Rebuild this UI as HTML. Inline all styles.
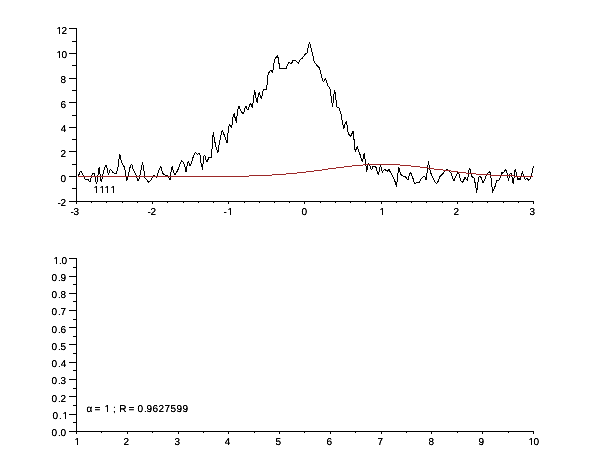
<!DOCTYPE html>
<html><head><meta charset="utf-8"><title>plot</title>
<style>html,body{margin:0;padding:0;background:#fff;width:610px;height:460px;overflow:hidden}svg{display:block;will-change:transform}</style>
</head><body>
<svg width="610" height="460" viewBox="0 0 610 460">
<defs><filter id="sh" x="0" y="0" filterUnits="userSpaceOnUse" width="610" height="460"><feComponentTransfer><feFuncA type="linear" slope="1.6" intercept="-0.15"/></feComponentTransfer></filter></defs>
<rect width="610" height="460" fill="#fff"/>
<g shape-rendering="crispEdges"><rect x="76" y="28" width="1" height="174" fill="#000"/><rect x="76" y="201" width="458" height="1" fill="#000"/><rect x="69" y="28" width="7" height="1" fill="#000"/><rect x="72" y="41" width="4" height="1" fill="#000"/><rect x="69" y="53" width="7" height="1" fill="#000"/><rect x="72" y="65" width="4" height="1" fill="#000"/><rect x="69" y="78" width="7" height="1" fill="#000"/><rect x="72" y="90" width="4" height="1" fill="#000"/><rect x="69" y="102" width="7" height="1" fill="#000"/><rect x="72" y="115" width="4" height="1" fill="#000"/><rect x="69" y="127" width="7" height="1" fill="#000"/><rect x="72" y="139" width="4" height="1" fill="#000"/><rect x="69" y="151" width="7" height="1" fill="#000"/><rect x="72" y="164" width="4" height="1" fill="#000"/><rect x="69" y="176" width="7" height="1" fill="#000"/><rect x="72" y="188" width="4" height="1" fill="#000"/><rect x="69" y="201" width="7" height="1" fill="#000"/><rect x="76" y="202" width="1" height="2" fill="#000"/><rect x="91" y="202" width="1" height="1" fill="#000"/><rect x="106" y="202" width="1" height="1" fill="#000"/><rect x="122" y="202" width="1" height="1" fill="#000"/><rect x="137" y="202" width="1" height="1" fill="#000"/><rect x="152" y="202" width="1" height="2" fill="#000"/><rect x="167" y="202" width="1" height="1" fill="#000"/><rect x="183" y="202" width="1" height="1" fill="#000"/><rect x="198" y="202" width="1" height="1" fill="#000"/><rect x="213" y="202" width="1" height="1" fill="#000"/><rect x="228" y="202" width="1" height="2" fill="#000"/><rect x="244" y="202" width="1" height="1" fill="#000"/><rect x="259" y="202" width="1" height="1" fill="#000"/><rect x="274" y="202" width="1" height="1" fill="#000"/><rect x="289" y="202" width="1" height="1" fill="#000"/><rect x="304" y="202" width="1" height="2" fill="#000"/><rect x="320" y="202" width="1" height="1" fill="#000"/><rect x="335" y="202" width="1" height="1" fill="#000"/><rect x="350" y="202" width="1" height="1" fill="#000"/><rect x="365" y="202" width="1" height="1" fill="#000"/><rect x="381" y="202" width="1" height="2" fill="#000"/><rect x="396" y="202" width="1" height="1" fill="#000"/><rect x="411" y="202" width="1" height="1" fill="#000"/><rect x="426" y="202" width="1" height="1" fill="#000"/><rect x="442" y="202" width="1" height="1" fill="#000"/><rect x="457" y="202" width="1" height="2" fill="#000"/><rect x="472" y="202" width="1" height="1" fill="#000"/><rect x="487" y="202" width="1" height="1" fill="#000"/><rect x="503" y="202" width="1" height="1" fill="#000"/><rect x="518" y="202" width="1" height="1" fill="#000"/><rect x="533" y="202" width="1" height="2" fill="#000"/><rect x="76" y="258" width="1" height="174" fill="#000"/><rect x="76" y="431" width="458" height="1" fill="#000"/><rect x="69" y="431" width="7" height="1" fill="#000"/><rect x="73" y="422" width="3" height="1" fill="#000"/><rect x="69" y="414" width="7" height="1" fill="#000"/><rect x="73" y="405" width="3" height="1" fill="#000"/><rect x="69" y="396" width="7" height="1" fill="#000"/><rect x="73" y="388" width="3" height="1" fill="#000"/><rect x="69" y="379" width="7" height="1" fill="#000"/><rect x="73" y="370" width="3" height="1" fill="#000"/><rect x="69" y="362" width="7" height="1" fill="#000"/><rect x="73" y="353" width="3" height="1" fill="#000"/><rect x="69" y="344" width="7" height="1" fill="#000"/><rect x="73" y="336" width="3" height="1" fill="#000"/><rect x="69" y="327" width="7" height="1" fill="#000"/><rect x="73" y="319" width="3" height="1" fill="#000"/><rect x="69" y="310" width="7" height="1" fill="#000"/><rect x="73" y="301" width="3" height="1" fill="#000"/><rect x="69" y="293" width="7" height="1" fill="#000"/><rect x="73" y="284" width="3" height="1" fill="#000"/><rect x="69" y="276" width="7" height="1" fill="#000"/><rect x="73" y="267" width="3" height="1" fill="#000"/><rect x="69" y="258" width="7" height="1" fill="#000"/><rect x="76" y="432" width="1" height="2" fill="#000"/><rect x="101" y="432" width="1" height="1" fill="#000"/><rect x="127" y="432" width="1" height="2" fill="#000"/><rect x="152" y="432" width="1" height="1" fill="#000"/><rect x="178" y="432" width="1" height="2" fill="#000"/><rect x="203" y="432" width="1" height="1" fill="#000"/><rect x="228" y="432" width="1" height="2" fill="#000"/><rect x="254" y="432" width="1" height="1" fill="#000"/><rect x="279" y="432" width="1" height="2" fill="#000"/><rect x="304" y="432" width="1" height="1" fill="#000"/><rect x="330" y="432" width="1" height="2" fill="#000"/><rect x="355" y="432" width="1" height="1" fill="#000"/><rect x="381" y="432" width="1" height="2" fill="#000"/><rect x="406" y="432" width="1" height="1" fill="#000"/><rect x="431" y="432" width="1" height="2" fill="#000"/><rect x="457" y="432" width="1" height="1" fill="#000"/><rect x="482" y="432" width="1" height="2" fill="#000"/><rect x="508" y="432" width="1" height="1" fill="#000"/><rect x="533" y="432" width="1" height="2" fill="#000"/></g>
<polyline points="78.4,175.8 79.4,173.6 80.3,171.8 81.3,171.8 82.4,173.6 83.5,175.6 84.5,177.7 85.5,179.6 86.7,179.1 87.9,179.4 88.8,180.6 89.8,182.0 90.5,181.3 91.0,177.9 91.5,175.8 92.2,174.6 92.9,173.5 94.1,173.5 94.3,173.6 95.1,176.8 95.6,179.6 96.4,183.4 97.3,181.7 97.8,177.4 98.3,172.0 98.8,168.7 99.4,167.3 99.9,173.0 100.4,176.3 100.8,179.6 101.3,182.3 101.9,179.6 102.4,175.8 103.1,173.6 103.7,171.4 104.3,168.7 105.1,166.5 106.0,165.4 106.8,167.6 107.5,170.1 108.1,173.0 108.6,174.4 109.2,172.0 110.0,169.8 110.8,169.5 111.7,170.6 112.5,172.2 113.6,173.0 115.2,173.3 116.6,173.0 117.4,169.0 117.9,168.0 118.8,160.2 119.7,154.1 120.5,155.9 121.0,160.2 122.3,164.1 124.4,167.2 125.7,173.7 126.6,180.7 127.9,177.2 129.2,171.1 130.5,165.4 131.8,164.6 133.1,168.9 135.3,173.7 136.6,176.3 137.9,180.7 139.2,178.5 140.5,173.3 141.4,168.0 142.5,162.4 143.6,167.6 144.4,173.7 144.9,177.6 146.6,179.8 148.8,182.4 151.0,179.8 153.7,175.4 155.0,175.9 156.3,177.6 157.7,173.7 159.0,170.2 160.7,166.3 161.6,168.5 162.4,172.8 163.7,174.6 165.5,175.4 167.2,175.4 169.0,178.0 170.3,180.2 170.7,175.0 171.3,168.5 172.4,166.3 173.3,171.1 174.6,175.0 176.3,172.8 178.1,169.3 179.8,164.6 181.6,160.7 183.3,162.0 184.6,165.0 185.5,168.5 185.9,172.4 186.8,166.7 187.7,163.3 188.5,161.5 189.8,165.4 190.3,165.9 192.0,160.7 193.3,156.7 194.6,153.2 195.5,152.3 197.2,154.1 199.5,153.8 200.4,155.4 200.6,162.6 201.7,163.9 202.4,170.1 203.0,163.9 203.7,157.4 204.5,154.8 205.3,157.1 206.0,160.0 206.6,162.3 207.6,160.3 208.9,157.7 210.2,157.1 211.5,157.1 212.0,149.0 212.6,139.0 213.3,132.2 214.0,136.7 214.7,141.2 215.7,145.4 216.5,148.7 217.8,153.0 218.6,148.0 219.5,142.0 220.5,137.8 221.4,133.3 222.3,130.6 223.3,132.5 224.4,135.5 225.6,139.0 227.1,143.1 227.6,137.8 228.4,128.7 229.4,124.5 230.5,126.0 231.7,128.3 232.4,121.8 233.3,115.5 234.3,113.6 235.3,119.0 236.5,122.4 237.5,110.7 238.9,105.8 240.2,109.2 241.6,112.1 243.4,114.1 244.6,109.7 245.8,105.8 247.0,108.7 248.3,110.2 249.5,104.8 250.9,103.8 252.4,108.2 253.8,96.3 254.6,90.3 255.4,94.1 256.3,99.6 257.1,102.8 258.2,96.3 259.2,92.5 260.3,96.3 261.4,99.0 262.5,93.0 263.6,89.6 265.2,89.8 266.3,89.8 267.2,84.3 267.6,76.7 268.7,72.9 270.1,70.8 271.3,70.2 272.6,72.4 273.5,67.6 274.3,61.1 275.4,58.0 276.5,57.4 277.4,55.4 278.3,58.5 278.7,62.8 279.6,65.0 280.0,68.5 281.3,68.4 283.9,68.4 286.1,68.5 287.4,65.4 288.4,62.7 289.6,62.8 291.3,64.1 292.6,61.1 293.5,60.2 295.2,60.4 297.0,62.0 298.5,63.3 299.6,60.7 300.9,58.9 302.6,58.0 303.9,55.9 305.7,53.7 307.2,52.8 307.8,49.7 308.5,45.8 309.4,42.3 310.0,43.7 310.6,45.8 311.1,48.9 312.0,52.3 312.9,55.4 313.5,58.4 314.1,61.0 315.2,63.2 316.5,65.0 318.3,66.7 319.6,68.4 320.4,71.5 321.7,76.8 322.6,80.3 323.6,82.2 324.6,79.8 325.6,78.3 326.5,81.3 327.5,85.2 328.7,86.6 329.7,88.1 330.5,90.5 330.9,95.0 331.6,99.4 332.1,103.3 332.6,106.7 333.1,102.3 333.6,97.4 334.1,93.5 334.6,89.6 335.1,92.0 335.5,95.4 336.0,100.3 336.5,104.2 337.0,107.2 338.5,107.0 339.4,108.9 340.4,111.8 341.4,115.8 342.0,119.7 342.8,124.1 344.0,128.5 344.8,124.6 345.8,122.1 346.5,120.7 346.9,124.6 347.5,128.5 348.2,132.9 349.5,135.3 350.7,136.3 351.8,133.9 353.1,131.4 353.6,136.3 354.1,140.2 354.6,147.6 355.4,152.0 356.5,147.6 357.4,146.5 358.7,150.9 360.3,155.2 362.2,161.5 363.3,157.9 364.3,152.6 365.0,158.5 365.8,163.9 366.3,168.3 366.8,171.5 367.4,166.1 368.5,163.4 369.6,164.5 370.7,168.3 371.7,169.9 372.8,166.6 374.5,166.1 376.1,167.7 377.2,171.5 378.3,174.8 379.3,170.4 380.4,165.5 381.5,168.3 382.2,172.3 384.5,169.3 386.1,170.3 387.4,171.2 389.0,169.6 390.7,172.6 392.0,174.8 393.3,177.4 394.6,180.4 395.9,183.9 396.5,187.4 397.2,179.6 397.9,173.5 398.7,167.4 399.3,168.3 400.2,173.0 401.5,175.2 403.3,176.1 405.4,176.5 406.7,178.7 408.0,180.0 409.3,174.8 410.2,172.4 411.5,174.3 412.8,177.8 414.1,182.2 415.0,184.3 416.3,183.0 417.6,182.6 418.9,183.0 420.2,180.4 421.5,178.3 422.8,177.0 424.1,176.1 424.8,176.5 426.1,180.0 426.8,175.2 427.4,169.1 428.0,164.8 428.4,161.3 429.0,164.8 429.6,167.4 430.3,171.7 431.3,174.3 432.6,177.0 433.9,180.0 435.2,182.6 436.5,183.5 437.8,182.2 438.7,179.6 439.6,177.0 441.3,175.2 443.0,173.5 444.8,171.3 446.5,169.6 447.7,169.6 449.1,171.3 450.9,173.0 452.2,176.1 453.0,178.7 453.7,181.3 454.8,178.7 456.1,176.1 457.4,172.6 458.3,172.2 459.1,174.3 460.2,178.9 461.1,181.1 462.4,182.4 463.7,180.2 464.6,178.0 465.4,177.2 466.3,179.3 467.3,180.7 468.0,177.2 468.7,172.4 469.3,168.5 470.2,169.8 470.8,172.4 471.5,176.3 472.8,177.2 474.0,177.6 474.6,181.1 475.4,183.7 476.0,188.0 476.6,192.8 477.2,188.0 477.8,183.7 478.5,178.5 479.3,176.3 480.7,176.7 482.0,180.2 483.3,183.3 484.6,179.8 485.9,176.3 487.2,173.7 488.5,172.4 489.8,171.5 490.5,174.6 491.1,178.5 491.7,183.7 492.2,188.5 492.7,192.8 493.3,189.8 494.1,188.9 494.8,187.2 495.7,184.1 496.5,181.1 497.8,180.2 499.1,180.2 500.3,177.6 500.9,175.0 501.7,172.4 503.0,173.3 504.3,171.5 505.7,169.3 506.5,171.1 507.4,173.7 507.8,176.7 508.4,181.1 509.1,178.0 509.8,175.0 510.4,172.8 511.3,173.7 511.9,176.7 512.6,181.1 513.3,184.1 513.9,179.3 514.5,173.7 515.0,169.8 515.3,168.7 516.0,172.0 516.6,175.2 517.3,178.2 517.9,179.5 518.9,178.2 519.6,180.1 520.5,179.8 521.2,175.9 521.8,173.3 522.5,171.3 523.2,174.6 523.8,175.9 524.5,178.5 525.4,179.5 526.4,178.2 527.4,178.8 528.4,180.1 529.4,179.8 530.3,178.2 531.0,175.9 531.6,174.2 532.3,171.6 532.7,169.0 533.3,166.7 533.8,166.4" fill="none" stroke="#000" stroke-width="1" shape-rendering="crispEdges" stroke-linejoin="bevel"/>
<g shape-rendering="crispEdges"><rect x="78" y="176" width="171" height="1" fill="#9c2828"/><rect x="249" y="175" width="23" height="1" fill="#9c2828"/><rect x="272" y="174" width="14" height="1" fill="#9c2828"/><rect x="286" y="173" width="11" height="1" fill="#9c2828"/><rect x="297" y="172" width="9" height="1" fill="#9c2828"/><rect x="306" y="171" width="8" height="1" fill="#9c2828"/><rect x="314" y="170" width="8" height="1" fill="#9c2828"/><rect x="322" y="169" width="6" height="1" fill="#9c2828"/><rect x="328" y="168" width="8" height="1" fill="#9c2828"/><rect x="336" y="167" width="8" height="1" fill="#9c2828"/><rect x="344" y="166" width="8" height="1" fill="#9c2828"/><rect x="352" y="165" width="11" height="1" fill="#9c2828"/><rect x="363" y="164" width="37" height="1" fill="#9c2828"/><rect x="400" y="165" width="11" height="1" fill="#9c2828"/><rect x="411" y="166" width="9" height="1" fill="#9c2828"/><rect x="420" y="167" width="8" height="1" fill="#9c2828"/><rect x="428" y="168" width="6" height="1" fill="#9c2828"/><rect x="434" y="169" width="9" height="1" fill="#9c2828"/><rect x="443" y="170" width="8" height="1" fill="#9c2828"/><rect x="451" y="171" width="7" height="1" fill="#9c2828"/><rect x="458" y="172" width="8" height="1" fill="#9c2828"/><rect x="466" y="173" width="10" height="1" fill="#9c2828"/><rect x="476" y="174" width="14" height="1" fill="#9c2828"/><rect x="490" y="175" width="24" height="1" fill="#9c2828"/><rect x="514" y="176" width="19" height="1" fill="#9c2828"/></g>
<g font-family='"Liberation Sans", Arial, Helvetica, sans-serif' font-size="10" fill="#000" stroke="#000" stroke-width="0.1" text-rendering="geometricPrecision" filter="url(#sh)"><text x="56.49 61.50" y="34">12</text><text x="56.49 61.61" y="58">10</text><text x="60.57" y="83">8</text><text x="60.49" y="108">6</text><text x="60.77" y="132">4</text><text x="60.50" y="157">2</text><text x="60.61" y="182">0</text><text x="57.56 60.50" y="206">-2</text><text x="53.49 59.09 61.61" y="264">1.0</text><text x="51.61 58.09 60.53" y="281">0.9</text><text x="51.61 58.09 60.57" y="298">0.8</text><text x="51.61 58.09 60.49" y="315">0.7</text><text x="51.61 58.09 60.49" y="333">0.6</text><text x="51.61 58.09 60.60" y="350">0.5</text><text x="51.61 58.09 60.77" y="367">0.4</text><text x="51.61 58.09 60.62" y="384">0.3</text><text x="51.61 58.09 60.50" y="402">0.2</text><text x="51.61 58.09 60.61" y="436">0.0</text><text x="52.61 59.09 62.49" y="419">0.1</text><text x="70.56 73.62" y="215">-3</text><text x="147.56 150.50" y="215">-2</text><text x="223.56 227.49" y="215">-1</text><text x="301.61" y="215">0</text><text x="379.49" y="215">1</text><text x="453.50" y="215">2</text><text x="529.62" y="215">3</text><text x="74.49" y="445">1</text><text x="123.50" y="445">2</text><text x="174.62" y="445">3</text><text x="224.77" y="445">4</text><text x="275.60" y="445">5</text><text x="326.49" y="445">6</text><text x="377.49" y="445">7</text><text x="428.57" y="445">8</text><text x="478.53" y="445">9</text><text x="528.49 533.61" y="445">10</text><text x="93.49 99.49 104.49 110.49" y="193">1111</text><text x="86.58 92.00 94.51 101.00 104.49 110.00 113.10 117.00 119.18 127.00 128.51 135.00 137.61 144.09 146.53 152.49 158.50 164.49 170.60 176.53 182.53" y="412" xml:space="preserve">α = 1 ; R = 0.9627599</text></g>
<g shape-rendering="crispEdges"><rect x="57" y="33" width="2" height="1" fill="#fff"/><rect x="60" y="33" width="2" height="1" fill="#fff"/><rect x="57" y="57" width="2" height="1" fill="#fff"/><rect x="60" y="57" width="2" height="1" fill="#fff"/><rect x="54" y="263" width="2" height="1" fill="#fff"/><rect x="57" y="263" width="2" height="1" fill="#fff"/><rect x="63" y="418" width="2" height="1" fill="#fff"/><rect x="66" y="418" width="2" height="1" fill="#fff"/><rect x="228" y="214" width="2" height="1" fill="#fff"/><rect x="231" y="214" width="2" height="1" fill="#fff"/><rect x="380" y="214" width="2" height="1" fill="#fff"/><rect x="383" y="214" width="2" height="1" fill="#fff"/><rect x="75" y="444" width="2" height="1" fill="#fff"/><rect x="78" y="444" width="2" height="1" fill="#fff"/><rect x="529" y="444" width="2" height="1" fill="#fff"/><rect x="532" y="444" width="2" height="1" fill="#fff"/><rect x="94" y="192" width="2" height="1" fill="#fff"/><rect x="97" y="192" width="2" height="1" fill="#fff"/><rect x="100" y="192" width="2" height="1" fill="#fff"/><rect x="103" y="192" width="2" height="1" fill="#fff"/><rect x="105" y="192" width="2" height="1" fill="#fff"/><rect x="108" y="192" width="2" height="1" fill="#fff"/><rect x="111" y="192" width="2" height="1" fill="#fff"/><rect x="114" y="192" width="2" height="1" fill="#fff"/><rect x="105" y="411" width="2" height="1" fill="#fff"/><rect x="108" y="411" width="2" height="1" fill="#fff"/></g>
</svg>
</body></html>
